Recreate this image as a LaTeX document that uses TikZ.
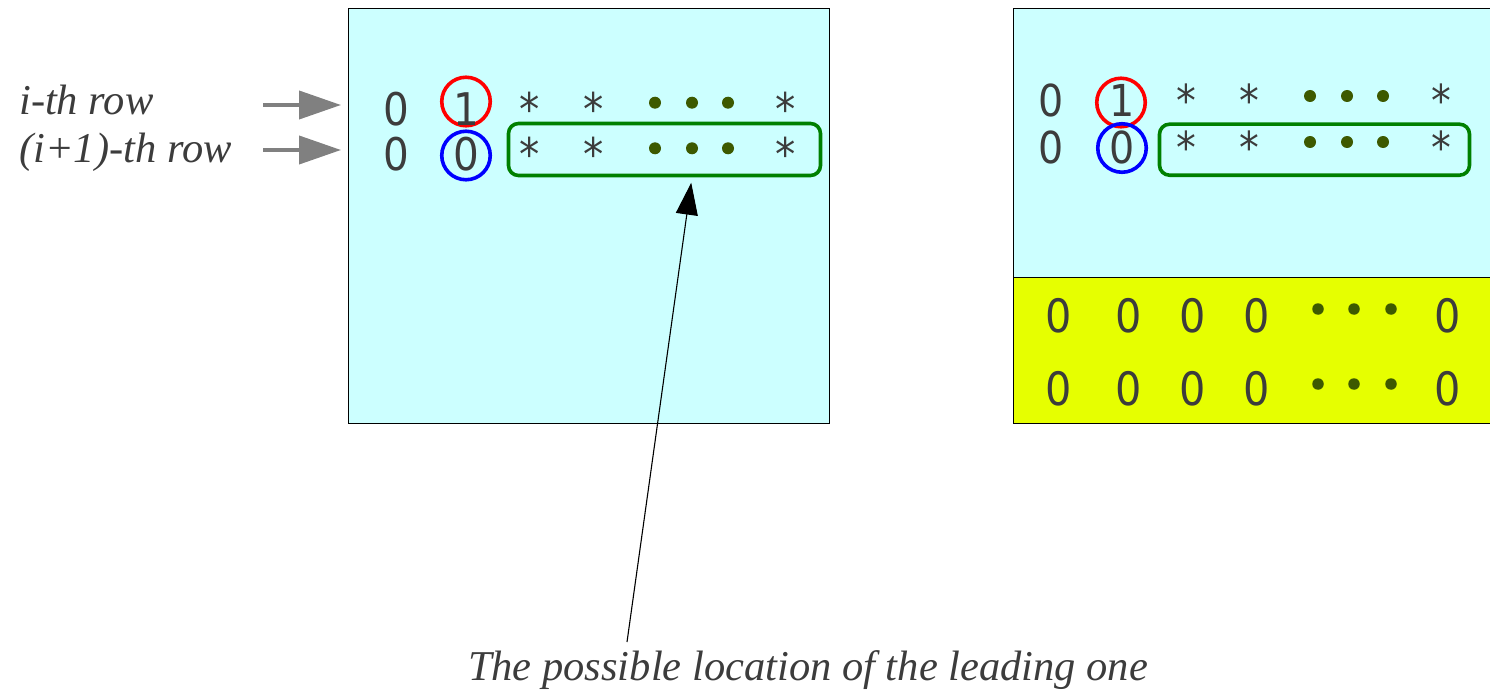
\documentclass[tikz,border=0pt]{standalone}
\usepackage{fontspec}
\setmainfont{Liberation Serif}
\newfontfamily\digfont[FakeStretch=0.9]{DejaVu Sans}
\usetikzlibrary{arrows.meta}
\definecolor{txt}{RGB}{60,60,60}
\definecolor{cyanbg}{RGB}{204,255,255}
\definecolor{yelbg}{RGB}{230,255,0}
\definecolor{dotc}{RGB}{61,89,0}
\definecolor{boxgreen}{RGB}{0,128,0}
\definecolor{arrgray}{RGB}{128,128,128}
\begin{document}
\begin{tikzpicture}[x=1pt,y=-1pt,
  dgA/.style={font=\digfont\fontsize{45}{54}\selectfont, text=txt, inner sep=0pt, anchor=base},
  dgB/.style={font=\digfont\fontsize{44}{53}\selectfont, text=txt, inner sep=0pt, anchor=base},
  dgC/.style={font=\digfont\fontsize{46}{55}\selectfont, text=txt, inner sep=0pt, anchor=base},
  dotnode/.style={circle, fill=dotc, inner sep=0pt, minimum size=12pt},
  panel/.style={draw=black, line width=1pt, inner sep=0pt, anchor=north west},
  ring/.style={circle, line width=3.6pt, inner sep=0pt, minimum size=48.5pt},
  selbox/.style={draw=boxgreen, line width=3.6pt, rounded corners=10pt, inner sep=0pt},
  lbl/.style={font=\itshape\fontsize{42.5}{50}\selectfont, text=txt, inner sep=0pt},
  grayarrow/.style={draw=arrgray, line width=4pt, -{Triangle[length=42pt,width=28pt]}},
  blackarrow/.style={draw=black, line width=1.1pt, -{Triangle[length=32pt,width=22pt]}}
]
\useasboundingbox (0,0) rectangle (1490,690);

% panels
\node[panel, fill=cyanbg, minimum width=481pt, minimum height=415pt] (lp) at (348,8) {};
\node[panel, fill=cyanbg, minimum width=490pt, minimum height=269pt] (rp) at (1013,8) {};
\node[panel, fill=yelbg, minimum width=490pt, minimum height=146pt] (yp) at (1013,277) {};

% left panel rings and box
\node[ring, draw=red] (lr) at (466,101.5) {};
\node[ring, draw=blue] (lbr) at (466,155.5) {};
\node[selbox, minimum width=312pt, minimum height=52pt] (lg) at (664.5,149.5) {};

% left panel row 1
\node[dgA] (la1) at (396,125) {0};
\node[dgA] (la2) at (466,125) {1};
\node[dgA] (la3) at (530,125) {*};
\node[dgA] (la4) at (594,125) {*};
\node[dotnode] (la5) at (655,102.7) {};
\node[dotnode] (la6) at (692,102.7) {};
\node[dotnode] (la7) at (728,102.7) {};
\node[dgA] (la8) at (786,125) {*};
% left panel row 2
\node[dgA] (lb1) at (396,170) {0};
\node[dgA] (lb2) at (466,170) {0};
\node[dgA] (lb3) at (530,170) {*};
\node[dgA] (lb4) at (594,170) {*};
\node[dotnode] (lb5) at (655,148.3) {};
\node[dotnode] (lb6) at (692,148.3) {};
\node[dotnode] (lb7) at (728,148.3) {};
\node[dgA] (lb8) at (786,170) {*};

% right panel rings and box
\node[ring, draw=red] (rr) at (1121,102.5) {};
\node[ring, draw=blue] (rbr) at (1122,148) {};
\node[selbox, minimum width=310pt, minimum height=51pt] (rg) at (1314.5,149.7) {};

% right panel row 1
\node[dgB] (ra1) at (1051,117) {0};
\node[dgB] (ra2) at (1122,117) {1};
\node[dgB] (ra3) at (1186,117) {*};
\node[dgB] (ra4) at (1249,117) {*};
\node[dotnode] (ra5) at (1310,96) {};
\node[dotnode] (ra6) at (1347,96) {};
\node[dotnode] (ra7) at (1383,96) {};
\node[dgB] (ra8) at (1441,117) {*};
% right panel row 2
\node[dgB] (rb1) at (1051,163) {0};
\node[dgB] (rb2) at (1122,163) {0};
\node[dgB] (rb3) at (1186,163) {*};
\node[dgB] (rb4) at (1249,163) {*};
\node[dotnode] (rb5) at (1310,142) {};
\node[dotnode] (rb6) at (1347,142) {};
\node[dotnode] (rb7) at (1383,142) {};
\node[dgB] (rb8) at (1441,163) {*};

% yellow rows
\node[dgC] (ya1) at (1059,332) {0};
\node[dgC] (ya2) at (1129,332) {0};
\node[dgC] (ya3) at (1193,332) {0};
\node[dgC] (ya4) at (1257,332) {0};
\node[dotnode, minimum size=11.5pt] (ya5) at (1318,309) {};
\node[dotnode, minimum size=11.5pt] (ya6) at (1354,309) {};
\node[dotnode, minimum size=11.5pt] (ya7) at (1391,309) {};
\node[dgC] (ya8) at (1448,332) {0};
\node[dgC] (yb1) at (1059,405) {0};
\node[dgC] (yb2) at (1129,405) {0};
\node[dgC] (yb3) at (1193,405) {0};
\node[dgC] (yb4) at (1257,405) {0};
\node[dotnode, minimum size=11.5pt] (yb5) at (1318,384) {};
\node[dotnode, minimum size=11.5pt] (yb6) at (1354,384) {};
\node[dotnode, minimum size=11.5pt] (yb7) at (1391,384) {};
\node[dgC] (yb8) at (1448,405) {0};

% row labels and arrows
\node[lbl, anchor=base west] (ith) at (19,115) {i-th row};
\node[lbl, anchor=base west] (ith1) at (19,162) {(i+1)-th row};
\coordinate (g1) at (263,105);
\coordinate (g2) at (263,150);
\draw[grayarrow, shorten >=7pt] (g1) -- (g1 -| lp.west);
\draw[grayarrow, shorten >=7pt] (g2) -- (g2 -| lp.west);

% bottom label and arrow
\node[lbl, anchor=base] (lead) at (808,680) {The possible location of the leading one};
\coordinate (bs) at (627,642);
\draw[blackarrow, shorten >=5.5pt] (bs) -- ([xshift=27.5pt]lg.south);

\end{tikzpicture}
\end{document}
